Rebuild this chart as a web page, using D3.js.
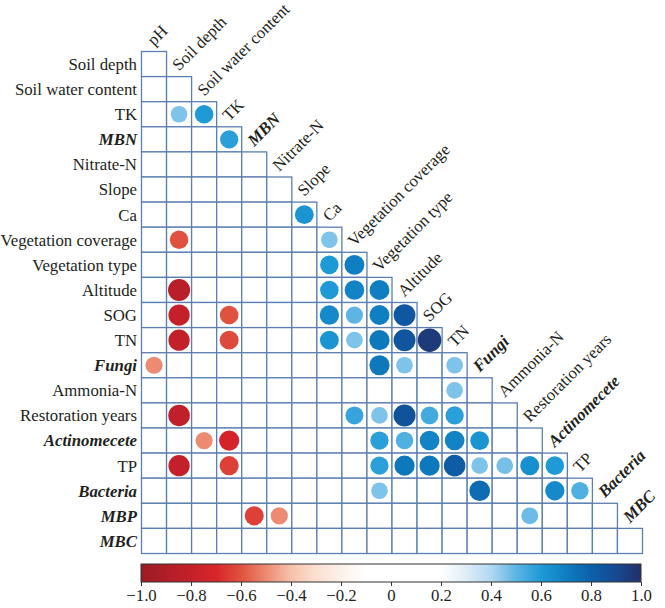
<!DOCTYPE html>
<html>
<head>
<meta charset="utf-8">
<script src="https://cdn.jsdelivr.net/npm/d3@7"></script>
<style>
  body { margin: 0; background: #fff; }
  text { font-family: "Liberation Serif", "Times New Roman", serif; fill: #231f20; }
</style>
</head>
<body>
<div id="chart"></div>
<script>
// Correlation matrix - lower triangle with circles

var rowLabels = ["Soil depth", "Soil water content", "TK", "MBN", "Nitrate-N", "Slope", "Ca",
  "Vegetation coverage", "Vegetation type", "Altitude", "SOG", "TN", "Fungi", "Ammonia-N",
  "Restoration years", "Actinomecete", "TP", "Bacteria", "MBP", "MBC"];

var colLabels = ["pH", "Soil depth", "Soil water content", "TK", "MBN", "Nitrate-N", "Slope", "Ca",
  "Vegetation coverage", "Vegetation type", "Altitude", "SOG", "TN", "Fungi", "Ammonia-N",
  "Restoration years", "Actinomecete", "TP", "Bacteria", "MBC"];

var italicLabels = ["MBN", "Fungi", "Actinomecete", "Bacteria", "MBP", "MBC"];

// [row, column, r]
var corrCells = [
  ["TK", "Soil depth", 0.46], ["TK", "Soil water content", 0.6],
  ["MBN", "TK", 0.58],
  ["Ca", "Slope", 0.62],
  ["Vegetation coverage", "Soil depth", -0.6], ["Vegetation coverage", "Ca", 0.46],
  ["Vegetation type", "Ca", 0.6], ["Vegetation type", "Vegetation coverage", 0.7],
  ["Altitude", "Soil depth", -0.86], ["Altitude", "Ca", 0.6], ["Altitude", "Vegetation coverage", 0.68],
  ["Altitude", "Vegetation type", 0.7],
  ["SOG", "Soil depth", -0.8], ["SOG", "TK", -0.6], ["SOG", "Ca", 0.66], ["SOG", "Vegetation coverage", 0.5],
  ["SOG", "Vegetation type", 0.7], ["SOG", "Altitude", 0.84],
  ["TN", "Soil depth", -0.8], ["TN", "TK", -0.62], ["TN", "Ca", 0.62], ["TN", "Vegetation coverage", 0.46],
  ["TN", "Vegetation type", 0.72], ["TN", "Altitude", 0.85], ["TN", "SOG", 0.96],
  ["Fungi", "pH", -0.5], ["Fungi", "Vegetation type", 0.72], ["Fungi", "Altitude", 0.46], ["Fungi", "TN", 0.46],
  ["Ammonia-N", "TN", 0.46],
  ["Restoration years", "Soil depth", -0.82], ["Restoration years", "Vegetation coverage", 0.56],
  ["Restoration years", "Vegetation type", 0.46], ["Restoration years", "Altitude", 0.86],
  ["Restoration years", "SOG", 0.54], ["Restoration years", "TN", 0.58],
  ["Actinomecete", "Soil water content", -0.5], ["Actinomecete", "TK", -0.72],
  ["Actinomecete", "Vegetation type", 0.58], ["Actinomecete", "Altitude", 0.52],
  ["Actinomecete", "SOG", 0.68], ["Actinomecete", "TN", 0.68], ["Actinomecete", "Fungi", 0.62],
  ["TP", "Soil depth", -0.8], ["TP", "TK", -0.64], ["TP", "Vegetation type", 0.58], ["TP", "Altitude", 0.72],
  ["TP", "SOG", 0.72], ["TP", "TN", 0.82], ["TP", "Fungi", 0.46], ["TP", "Ammonia-N", 0.47],
  ["TP", "Restoration years", 0.64], ["TP", "Actinomecete", 0.6],
  ["Bacteria", "Vegetation type", 0.46], ["Bacteria", "Fungi", 0.76], ["Bacteria", "Actinomecete", 0.66],
  ["Bacteria", "TP", 0.52],
  ["MBP", "MBN", -0.64], ["MBP", "Nitrate-N", -0.5], ["MBP", "Restoration years", 0.48]
];

var legendTicks = [-1, -0.8, -0.6, -0.4, -0.2, 0, 0.2, 0.4, 0.6, 0.8, 1];

var width = 665, height = 608;
var fontSize = "16.8px";

var svg = d3.select("#chart").append("svg")
  .attr("width", width)
  .attr("height", height);

// Scales
var x = d3.scaleBand().domain(colLabels).range([141.5, 642.5]);
var y = d3.scaleBand().domain(rowLabels).range([51.5, 553.5]);
var bw = x.bandwidth(), bh = y.bandwidth();

var color = d3.scaleLinear()
  .domain([-1, -0.8, -0.7, -0.6, -0.5, -0.4, -0.3, -0.2, -0.1, 0.2, 0.3, 0.4, 0.5, 0.6, 0.7, 0.8, 0.9, 1])
  .range(["#9b1c24", "#c4202a", "#d8252a", "#e0523f", "#ec8a72", "#f6c1aa", "#fbe0d2", "#fef1ea", "#ffffff",
    "#ffffff", "#deedf8", "#b2d8f0", "#5cb5e5", "#1e9ad6", "#0f7ec2", "#0b60aa", "#154a90", "#22306a"])
  .interpolate(d3.interpolateRgb);

var radius = d3.scaleLinear().domain([0, 1]).range([5.2, 12]);

// Grid cells (lower triangle)
var cells = [];
rowLabels.forEach((r, i) => {
  for (var j = 0; j <= i; j++) cells.push({ row: r, col: colLabels[j] });
});

svg.append("g").selectAll("rect")
  .data(cells)
  .enter().append("rect")
  .attr("x", d => x(d.col))
  .attr("y", d => y(d.row))
  .attr("width", bw)
  .attr("height", bh)
  .attr("fill", "#fff")
  .attr("stroke", "#5b7fb0")
  .attr("stroke-width", 1.3);

// Circles
svg.append("g").selectAll("circle")
  .data(corrCells)
  .enter().append("circle")
  .attr("cx", d => x(d[1]) + bw / 2)
  .attr("cy", d => y(d[0]) + bh / 2)
  .attr("r", d => radius(Math.abs(d[2])))
  .attr("fill", d => color(d[2]));

// Row labels
svg.append("g").selectAll("text")
  .data(rowLabels)
  .enter().append("text")
  .attr("x", 137)
  .attr("y", d => y(d) + bh / 2)
  .attr("dy", "0.35em")
  .attr("text-anchor", "end")
  .attr("font-size", fontSize)
  .attr("font-style", d => italicLabels.includes(d) ? "italic" : null)
  .attr("font-weight", d => italicLabels.includes(d) ? "bold" : null)
  .text(d => d);

// Column labels, rotated along the diagonal
svg.append("g").selectAll("text")
  .data(colLabels)
  .enter().append("text")
  .attr("transform", (d, i) =>
    "translate(" + (x(d) + bw / 2) + "," + (y(rowLabels[i]) - 5) + ") rotate(-45)")
  .attr("font-size", fontSize)
  .attr("font-style", d => italicLabels.includes(d) ? "italic" : null)
  .attr("font-weight", d => italicLabels.includes(d) ? "bold" : null)
  .text(d => d);

// Colour bar
var lx = d3.scaleLinear().domain([-1, 1]).range([141, 641]);
var defs = svg.append("defs");
var grad = defs.append("linearGradient").attr("id", "corrGrad");
d3.range(0, 101).forEach(k => {
  grad.append("stop")
    .attr("offset", k + "%")
    .attr("stop-color", color(-1 + k / 50));
});

svg.append("rect")
  .attr("x", lx(-1))
  .attr("y", 564)
  .attr("width", lx(1) - lx(-1))
  .attr("height", 18)
  .attr("fill", "url(#corrGrad)")
  .attr("stroke", "#333")
  .attr("stroke-width", 1);

var fmt = v => v === 0 ? "0" : (v < 0 ? "\u2212" : "") + Math.abs(v).toFixed(1);

var legendAxis = svg.append("g")
  .attr("transform", "translate(0,582)")
  .call(d3.axisBottom(lx).tickValues(legendTicks).tickSize(4).tickPadding(3).tickFormat(fmt));

legendAxis.select(".domain").remove();
legendAxis.selectAll("line").attr("stroke", "#333");
legendAxis.selectAll("text")
  .attr("font-family", "Liberation Serif")
  .attr("font-size", fontSize)
  .attr("fill", "#231f20");
</script>
</body>
</html>
